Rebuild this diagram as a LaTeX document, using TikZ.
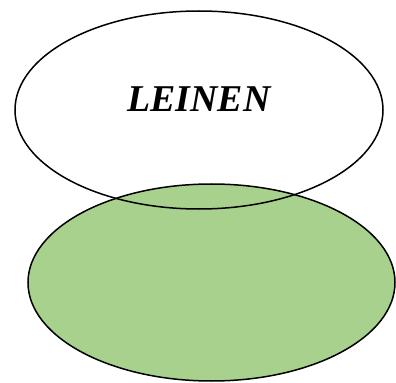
\documentclass[tikz,border=0pt]{standalone}
\usetikzlibrary{shapes.geometric}
\usepackage{fontspec}
\setmainfont{Liberation Serif}
\definecolor{lgreen}{HTML}{A9D18E}
\begin{document}
\begin{tikzpicture}[x=1bp,y=1bp,
  ellbox/.style={draw=black,line width=1.5bp,ellipse,inner sep=0pt}]
\useasboundingbox (0,0) rectangle (396,383);
\node[ellbox,fill=lgreen,minimum width=367bp,minimum height=197bp] (green) at (211.5,100.5) {};
\node[ellbox,minimum width=368bp,minimum height=198bp] (top) at (199,273) {};
\node[font=\fontsize{38}{40}\selectfont\bfseries\itshape,inner sep=0pt] (lbl) at (199,284) {LEINEN};
\end{tikzpicture}
\end{document}
